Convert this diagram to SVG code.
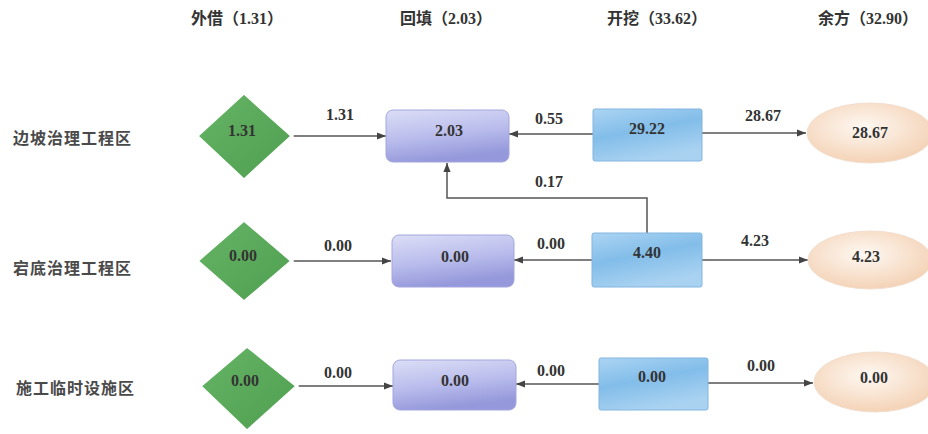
<svg xmlns="http://www.w3.org/2000/svg" width="928" height="434" viewBox="0 0 928 434">
<defs>
<linearGradient id="gDia" x1="0" y1="0" x2="1" y2="1">
<stop offset="0" stop-color="#66b466"/><stop offset="1" stop-color="#4f9f50"/>
</linearGradient>
<linearGradient id="gPur" x1="0" y1="0" x2="0.3" y2="1">
<stop offset="0" stop-color="#dcdef6"/><stop offset="0.55" stop-color="#babdec"/><stop offset="1" stop-color="#9598da"/>
</linearGradient>
<linearGradient id="gBlu" x1="0" y1="0" x2="0.4" y2="1">
<stop offset="0" stop-color="#acd4f3"/><stop offset="0.5" stop-color="#82bde9"/><stop offset="1" stop-color="#a9d2f1"/>
</linearGradient>
<radialGradient id="gEll" cx="0.45" cy="0.4" r="0.65">
<stop offset="0" stop-color="#fef8f2"/><stop offset="1" stop-color="#f3d0b2"/>
</radialGradient>
<marker id="arr" viewBox="0 0 10 10" refX="10" refY="5" markerWidth="9" markerHeight="9" markerUnits="userSpaceOnUse" orient="auto">
<path d="M0,1 L10,5 L0,9 z" fill="#444"/>
</marker>
<style>
.num{font-family:"Liberation Serif","Noto Sans CJK SC",serif;font-weight:bold;font-size:16px;fill:#333;text-anchor:middle;dominant-baseline:central}
.hdr{font-family:"Liberation Serif","Noto Sans CJK SC",serif;font-weight:bold;font-size:16px;fill:#333;text-anchor:middle;dominant-baseline:central}
.row{font-family:"Noto Sans CJK SC",sans-serif;font-weight:bold;font-size:16px;fill:#4a4a4a;letter-spacing:1px;dominant-baseline:central}
.dia{fill:url(#gDia);stroke:#fff;stroke-width:3}
.pur{fill:url(#gPur);stroke:#a3a6de;stroke-width:1}
.blu{fill:url(#gBlu);stroke:#82b5e0;stroke-width:1}
.ell{fill:url(#gEll);stroke:#f3dfcf;stroke-width:1}
.con{fill:none;stroke:#555;stroke-width:1.5;marker-end:url(#arr)}
</style>
</defs>
<rect width="928" height="434" fill="#ffffff"/>
<g id="headers">
<text class="hdr" x="237" y="18">外借（1.31）</text>
<text class="hdr" x="446" y="18">回填（2.03）</text>
<text class="hdr" x="657" y="18">开挖（33.62）</text>
<text class="hdr" x="868" y="18">余方（32.90）</text>
</g>
<g id="rowlabels">
<text class="row" x="13" y="137">边坡治理工程区</text>
<text class="row" x="13" y="267">宕底治理工程区</text>
<text class="row" x="16" y="387">施工临时设施区</text>
</g>
<g id="connectors">
<line class="con" x1="293" y1="136" x2="386" y2="136"/>
<line class="con" x1="593" y1="134" x2="509" y2="134"/>
<line class="con" x1="702" y1="133" x2="806" y2="133"/>
<polyline class="con" points="647,233 647,198 447,198 447,163"/>
<line class="con" x1="292" y1="261" x2="391" y2="261"/>
<line class="con" x1="592" y1="260" x2="514" y2="260"/>
<line class="con" x1="702" y1="260" x2="808" y2="260"/>
<line class="con" x1="297" y1="386" x2="393" y2="386"/>
<line class="con" x1="599" y1="384" x2="516" y2="384"/>
<line class="con" x1="708" y1="383" x2="813" y2="383"/>
<text class="num" x="340" y="114">1.31</text>
<text class="num" x="549" y="118">0.55</text>
<text class="num" x="763" y="115">28.67</text>
<text class="num" x="549" y="181">0.17</text>
<text class="num" x="338" y="245">0.00</text>
<text class="num" x="551" y="243">0.00</text>
<text class="num" x="755" y="240">4.23</text>
<text class="num" x="338" y="372">0.00</text>
<text class="num" x="551" y="370">0.00</text>
<text class="num" x="761" y="365">0.00</text>
</g>
<g id="d1"><polygon class="dia" points="244,93 292,136 244,180 197,136"/><text class="num" x="242" y="130">1.31</text></g>
<g id="d2"><polygon class="dia" points="244,220 292,261 244,302 197,261"/><text class="num" x="243" y="255">0.00</text></g>
<g id="d3"><polygon class="dia" points="247,346 297,386 247,431 200,386"/><text class="num" x="245" y="380">0.00</text></g>
<g id="p1"><rect class="pur" x="386" y="110" width="123" height="52" rx="7"/><text class="num" x="449" y="130">2.03</text></g>
<g id="p2"><rect class="pur" x="392" y="235" width="122" height="52" rx="7"/><text class="num" x="455" y="256">0.00</text></g>
<g id="p3"><rect class="pur" x="393" y="360" width="123" height="50" rx="7"/><text class="num" x="455" y="380">0.00</text></g>
<g id="b1"><rect class="blu" x="593" y="109" width="109" height="52" rx="2"/><text class="num" x="647" y="128">29.22</text></g>
<g id="b2"><rect class="blu" x="592" y="233" width="110" height="54" rx="2"/><text class="num" x="647" y="252">4.40</text></g>
<g id="b3"><rect class="blu" x="599" y="358" width="109" height="52" rx="2"/><text class="num" x="652" y="376">0.00</text></g>
<g id="e1"><ellipse class="ell" cx="870" cy="133" rx="63" ry="30"/><text class="num" x="870" y="132">28.67</text></g>
<g id="e2"><ellipse class="ell" cx="870" cy="260" rx="62" ry="29"/><text class="num" x="866" y="256">4.23</text></g>
<g id="e3"><ellipse class="ell" cx="875" cy="382" rx="61" ry="30"/><text class="num" x="874" y="377">0.00</text></g>
</svg>
